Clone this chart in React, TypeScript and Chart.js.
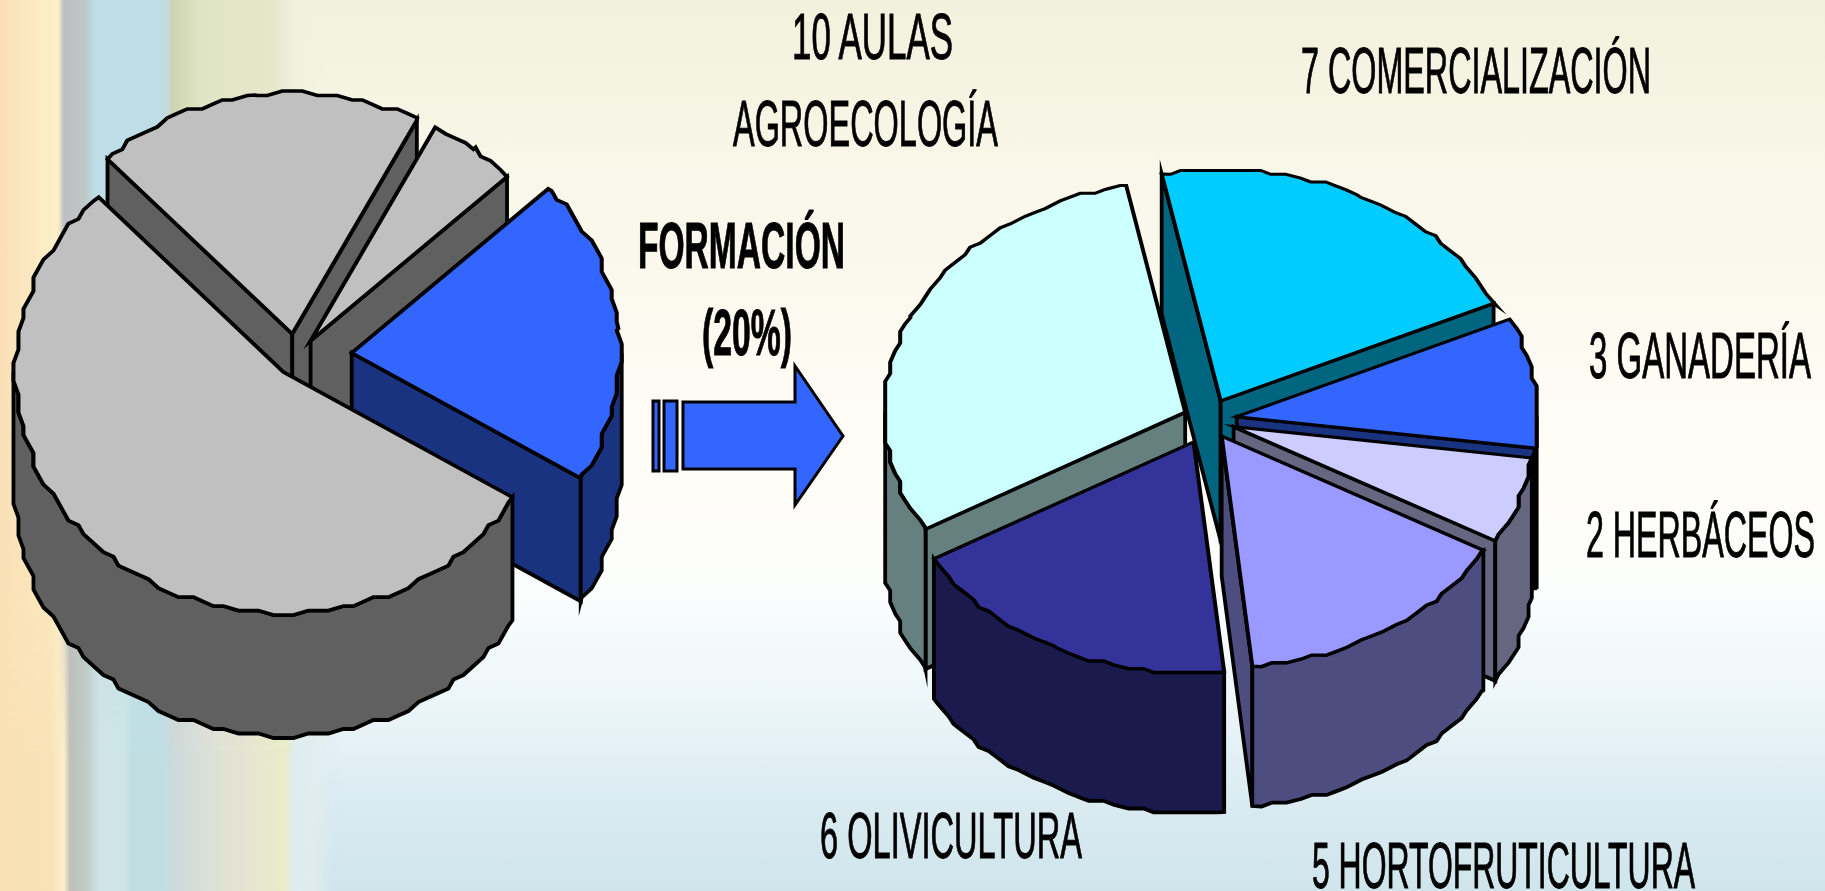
import React, { useEffect, useRef } from "react";
import { Chart, registerables } from "chart.js";

Chart.register(...registerables);

const leftCategories = ["Otros A", "Formación", "Otros B", "Otros C"];
const leftValues = [5.4, 20.6, 54.2, 19.8];
const leftColors = ["#C0C0C0", "#3366FF", "#C0C0C0", "#C0C0C0"];
const leftWalls = ["#606060", "#1A3380", "#606060", "#606060"];
const leftExplode = [24, 56, 20, 27];

const rightCategories = ["7 COMERCIALIZACIÓN", "3 GANADERÍA", "2 HERBÁCEOS", "5 HORTOFRUTICULTURA", "6 OLIVICULTURA", "10 AULAS AGROECOLOGÍA"];
const rightValues = [7, 3, 2, 5, 6, 10];
const rightColors = ["#00CCFF", "#3366FF", "#CCCCFF", "#9999FF", "#333399", "#CCFFFF"];
const rightWalls = ["#006680", "#1A3380", "#666680", "#4D4D80", "#1A1A4D", "#668080"];
const rightExplode = [28, 29, 27, 25, 32, 25];

const labels = [
  { text: "10 AULAS", x: 792, y: 59, w: 161, bold: false },
  { text: "AGROECOLOGÍA", x: 733, y: 146, w: 265, bold: false },
  { text: "FORMACIÓN", x: 638, y: 268, w: 207, bold: true },
  { text: "(20%)", x: 702, y: 355, w: 90, bold: true },
  { text: "7 COMERCIALIZACIÓN", x: 1301, y: 93, w: 350, bold: false },
  { text: "3 GANADERÍA", x: 1589, y: 378, w: 222, bold: false },
  { text: "2 HERBÁCEOS", x: 1586, y: 557, w: 229, bold: false },
  { text: "6 OLIVICULTURA", x: 820, y: 858, w: 262, bold: false },
  { text: "5 HORTOFRUTICULTURA", x: 1312, y: 888, w: 383, bold: false },
];

const SNAP = 5;
const STEP = Math.PI / 72;

function rim(r: number, a0: number, a1: number, snapStart = false, snapEnd = false) {
  const snapped = (a: number): [number, number] => [
    Math.round((r * Math.cos(a)) / SNAP) * SNAP,
    Math.round((r * Math.sin(a)) / SNAP) * SNAP,
  ];
  const pts: [number, number][] = [snapStart ? snapped(a0) : [r * Math.cos(a0), r * Math.sin(a0)]];
  const first = Math.floor(a0 / STEP + 1e-6) + 1;
  const last = Math.ceil(a1 / STEP - 1e-6) - 1;
  for (let i = first; i <= last; i++) pts.push(snapped(i * STEP));
  pts.push(snapEnd ? snapped(a1) : [r * Math.cos(a1), r * Math.sin(a1)]);
  return pts;
}

const pie3d = {
  id: "pie3d",
  beforeDatasetDraw(chart: any, args: any, opts: any) {
    const ctx = chart.ctx;
    const ds = chart.data.datasets[args.index];
    const k = opts.tilt;
    const depth = opts.depth;
    const order = args.meta.data
      .map((arc: any, i: number) => ({ arc, i, mid: (arc.startAngle + arc.endAngle) / 2 }))
      .sort((a: any, b: any) => Math.sin(a.mid) - Math.sin(b.mid));

    for (const { arc, i, mid } of order) {
      const ex = Math.cos(mid) * ds.explode[i];
      const ey = Math.sin(mid) * ds.explode[i];
      const cx = arc.x + ex;
      const cy = arc.y + ey * k;
      const r = arc.outerRadius;
      ctx.save();
      ctx.lineWidth = 3.8;
      ctx.lineJoin = "miter";
      ctx.strokeStyle = "#000";
      ctx.fillStyle = ds.walls[i];
      const face = (pts: [number, number][]) => {
        ctx.beginPath();
        pts.forEach((p, j) => (j ? ctx.lineTo(p[0], p[1]) : ctx.moveTo(p[0], p[1])));
        ctx.closePath();
        ctx.fill();
        ctx.stroke();
      };
      const radial = (t: number) => {
        const px = cx + r * Math.cos(t);
        const py = cy + r * Math.sin(t) * k;
        face([[cx, cy], [px, py], [px, py + depth], [cx, cy + depth]]);
      };
      if (Math.cos(arc.startAngle) < 0) radial(arc.startAngle);
      if (Math.cos(arc.endAngle) > 0) radial(arc.endAngle);
      for (let n = -2; n <= 2; n++) {
        const a0 = Math.max(arc.startAngle, n * 2 * Math.PI);
        const a1 = Math.min(arc.endAngle, n * 2 * Math.PI + Math.PI);
        if (a1 <= a0) continue;
        const top = rim(r, a0, a1, a0 !== arc.startAngle, a1 !== arc.endAngle).map(
          ([x, y]) => [cx + x, cy + y * k] as [number, number]
        );
        const bottom = top.map(([x, y]) => [x, y + depth] as [number, number]).reverse();
        face([...top, ...bottom]);
      }
      ctx.translate(arc.x, arc.y);
      ctx.scale(1, k);
      ctx.translate(-arc.x, -arc.y);
      ctx.translate(ex, ey);
      ctx.arc = function (x: number, y: number, rad: number, a0: number, a1: number) {
        rim(rad, a0, a1).forEach((p) => ctx.lineTo(x + p[0], y + p[1]));
      };
      arc.draw(ctx);
      delete ctx.arc;
      ctx.restore();
    }
    return false;
  },
};

function Pie({ categories, values, colors, walls, explode, rotation, radius, tilt, depth, style }: any) {
  const ref = useRef<HTMLCanvasElement>(null);
  useEffect(() => {
    const chart = new Chart(ref.current as HTMLCanvasElement, {
      type: "pie",
      data: {
        labels: categories,
        datasets: [
          {
            data: values,
            backgroundColor: colors,
            borderColor: "#000",
            borderWidth: 4,
            borderJoinStyle: "miter",
            walls,
            explode,
          } as any,
        ],
      },
      options: {
        responsive: false,
        animation: false,
        rotation,
        radius,
        layout: { padding: 0 },
        plugins: { legend: { display: false }, tooltip: { enabled: false }, pie3d: { tilt, depth } } as any,
      },
      plugins: [pie3d as any],
    });
    return () => chart.destroy();
  }, []);
  return <canvas ref={ref} width={style.width} height={style.height} style={{ position: "absolute", ...style }} />;
}

const stripTop =
  "linear-gradient(90deg,#FADFB6 0,#FCE8C0 30px,#FDF0C8 58px,#BDBDC4 64px,#C0C8C6 85px,#BDDEE6 95px,#BDDEE6 160px,#C8D8DE 168px,#CDD2B0 172px,#E0E4C6 200px,#E4E7CA 270px,#F1F1DE 295px,rgba(243,242,224,0) 330px)";
const stripBottom =
  "linear-gradient(90deg,#F9E1B4 0,#F8E2B6 50px,#FCEFCB 64px,#BFBFB8 70px,#C0CFCB 88px,#D0E4E6 100px,#CDE5E6 125px,#C0DEE2 132px,#C0DEE2 165px,#CDD9DA 172px,#DCE0D8 210px,#E7E5D0 250px,#E9EBC8 285px,#DCECF2 296px,rgba(208,230,238,0) 340px)";

export default function App() {
  return (
    <div
      style={{
        position: "fixed",
        left: 0,
        top: 0,
        width: 1825,
        height: 891,
        overflow: "hidden",
        background:
          "linear-gradient(180deg,#F2F1DD 0,#F7F6E6 130px,#FCFAF0 330px,#FFFDF7 470px,#FBFDFC 590px,#ECF6F9 700px,#DAEBF1 800px,#CFE5EC 891px)",
      }}
    >
      <div style={{ position: "absolute", left: 0, top: 0, width: 340, height: 891, background: stripTop }} />
      <div
        style={{
          position: "absolute",
          left: 0,
          top: 0,
          width: 340,
          height: 891,
          background: stripBottom,
          WebkitMaskImage: "linear-gradient(180deg,transparent 45%,#000 85%)",
          maskImage: "linear-gradient(180deg,transparent 45%,#000 85%)",
        }}
      />
      <Pie
        categories={leftCategories}
        values={leftValues}
        colors={leftColors}
        walls={leftWalls}
        explode={leftExplode}
        rotation={27.7}
        radius={268}
        tilt={0.9}
        depth={123}
        style={{ left: -64, top: -42, width: 720, height: 800 }}
      />
      <Pie
        categories={rightCategories}
        values={rightValues}
        colors={rightColors}
        walls={rightWalls}
        explode={rightExplode}
        rotation={-11.3}
        radius={301}
        tilt={0.768}
        depth={140}
        style={{ left: 808, top: 0, width: 800, height: 840 }}
      />
      <svg width={1825} height={891} style={{ position: "absolute", left: 0, top: 0 }}>
        <g fill="#3366FF" stroke="#000" strokeWidth={3}>
          <rect x={653} y={401} width={6} height={70} />
          <rect x={664} y={401} width={13} height={70} />
          <polygon points="683,402 795,402 795,366 843,436 795,505 795,469 683,469" />
        </g>
        {labels.map((l) => (
          <text
            key={l.text}
            x={l.x}
            y={l.y}
            textLength={l.w}
            lengthAdjust="spacingAndGlyphs"
            fontFamily="'Liberation Sans', Arial, sans-serif"
            fontSize={64}
            fontWeight={l.bold ? 700 : 400}
            fill="#000"
            stroke="#000"
            strokeWidth={1}
          >
            {l.text}
          </text>
        ))}
      </svg>
    </div>
  );
}
